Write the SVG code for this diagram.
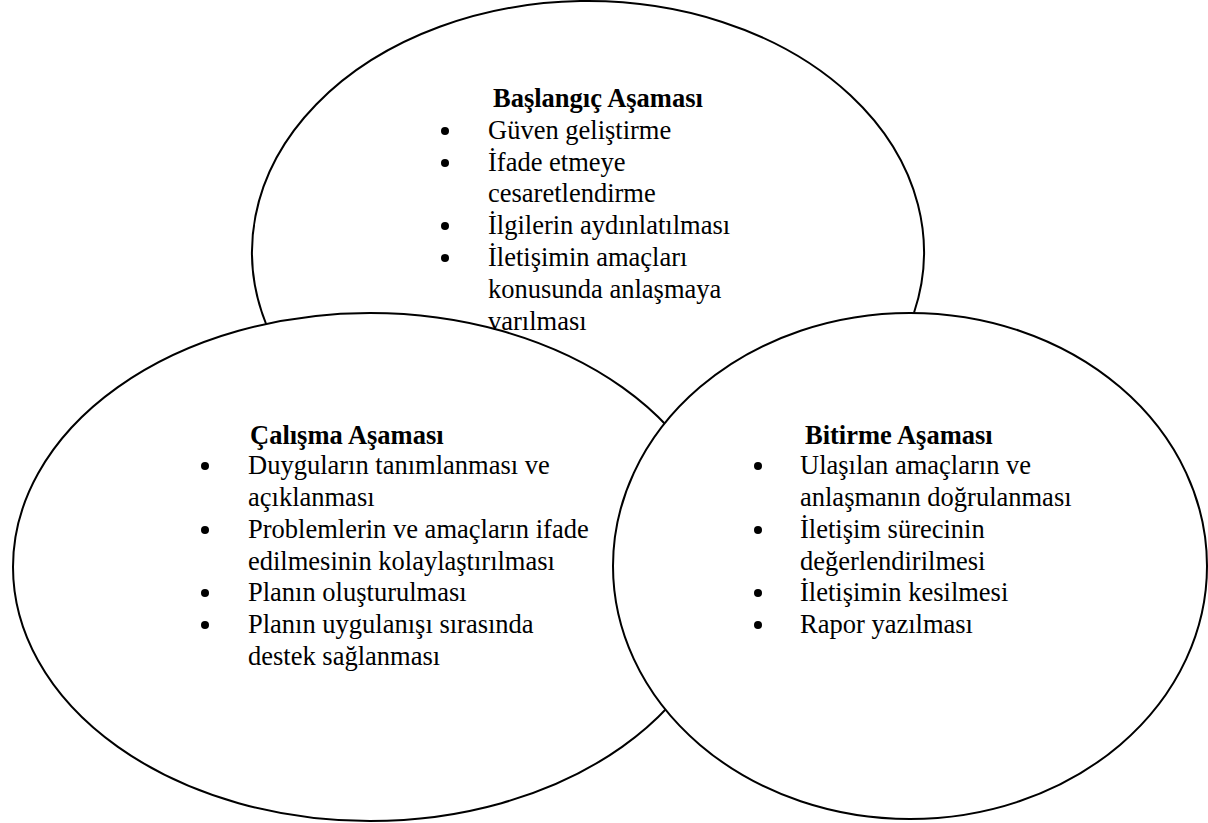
<svg xmlns="http://www.w3.org/2000/svg" width="1208" height="823" viewBox="0 0 1208 823">
<style>
.shape{fill:#fff;stroke:#000;stroke-width:2}
.arc{fill:none;stroke:#000;stroke-width:2}
text{font-family:"Liberation Serif","Times New Roman",serif;font-size:26.5px;fill:#000}
.title{font-weight:bold}
.bul{fill:#000}
</style>
<rect width="1208" height="823" fill="#fff"/>
<g id="connectors"></g>
<g id="node-calisma">
<ellipse class="shape" cx="370" cy="567" rx="357" ry="254"/>
<text class="title" x="250" y="444">Çalışma Aşaması</text>
<circle class="bul" cx="205" cy="466" r="4"/>
<text x="248" y="474">Duyguların tanımlanması ve</text>
<text x="248" y="506">açıklanması</text>
<circle class="bul" cx="205" cy="530" r="4"/>
<text x="248" y="538">Problemlerin ve amaçların ifade</text>
<text x="248" y="570">edilmesinin kolaylaştırılması</text>
<circle class="bul" cx="205" cy="593" r="4"/>
<text x="248" y="601">Planın oluşturulması</text>
<circle class="bul" cx="205" cy="625" r="4"/>
<text x="248" y="633">Planın uygulanışı sırasında</text>
<text x="248" y="665">destek sağlanması</text>
</g>
<g id="node-bitirme">
<ellipse class="shape" cx="910" cy="566" rx="297" ry="253"/>
<text class="title" x="805" y="444">Bitirme Aşaması</text>
<circle class="bul" cx="758" cy="466" r="4"/>
<text x="800" y="474">Ulaşılan amaçların ve</text>
<text x="800" y="506">anlaşmanın doğrulanması</text>
<circle class="bul" cx="758" cy="530" r="4"/>
<text x="800" y="538">İletişim sürecinin</text>
<text x="800" y="570">değerlendirilmesi</text>
<circle class="bul" cx="758" cy="593" r="4"/>
<text x="800" y="601">İletişimin kesilmesi</text>
<circle class="bul" cx="758" cy="625" r="4"/>
<text x="800" y="633">Rapor yazılması</text>
</g>
<g id="node-baslangic">
<path class="arc" d="M266.1 324 A336 251 0 1 1 914 312.8"/>
<text class="title" x="493" y="107">Başlangıç Aşaması</text>
<circle class="bul" cx="445" cy="131" r="4"/>
<text x="488" y="139">Güven geliştirme</text>
<circle class="bul" cx="445" cy="163" r="4"/>
<text x="488" y="171">İfade etmeye</text>
<text x="488" y="202">cesaretlendirme</text>
<circle class="bul" cx="445" cy="226" r="4"/>
<text x="488" y="234">İlgilerin aydınlatılması</text>
<circle class="bul" cx="445" cy="258" r="4"/>
<text x="488" y="266">İletişimin amaçları</text>
<text x="488" y="298">konusunda anlaşmaya</text>
<text x="488" y="330">varılması</text>
</g>
</svg>
